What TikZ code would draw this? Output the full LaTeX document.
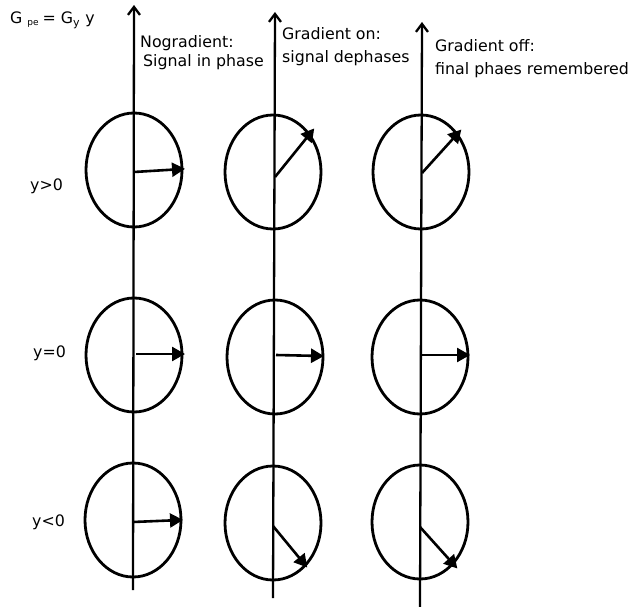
\documentclass[tikz,border=0pt]{standalone}
\usepackage{fontspec}
\setmainfont{DejaVu Sans}
\usetikzlibrary{arrows.meta,shapes.geometric}
\begin{document}
\begin{tikzpicture}[x=1pt,y=-1pt,
  circ/.style={draw,ellipse,line width=2.8pt,minimum width=96pt,minimum height=114pt,inner sep=0pt},
  axis/.style={line width=2.3pt,-{Straight Barb[length=8pt,width=12pt,line width=2.3pt]}},
  vec/.style={line width=2.6pt,-{Triangle[length=13pt,width=14pt]},shorten >=-2pt},
  lbl/.style={anchor=base west,inner sep=0pt,font=\fontsize{15.8}{18}\selectfont}]
\useasboundingbox (0,0) rectangle (629,607);
% axes
\coordinate (a1b) at (133,590); \coordinate (a1t) at (134,5);
\coordinate (a2b) at (273,598); \coordinate (a2t) at (275,12);
\coordinate (a3b) at (420,607); \coordinate (a3t) at (422,22);
% circles
\node[circ] (c11) at (134,170) {};
\node[circ] (c12) at (134,355) {};
\node[circ] (c13) at (133,520) {};
\node[circ] (c21) at (273,172) {};
\node[circ] (c22) at (275,357) {};
\node[circ] (c23) at (273,523) {};
\node[circ] (c31) at (421,172) {};
\node[circ] (c32) at (420,357) {};
\node[circ] (c33) at (420,522) {};
\draw[axis] (a1b) -- (a1t);
\draw[axis] (a2b) -- (a2t);
\draw[axis] (a3b) -- (a3t);
% vectors
\coordinate (s11) at (134,172); \coordinate (e11) at (183,169);
\coordinate (s12) at (136,354); \coordinate (e12) at (183,354);
\coordinate (s13) at (133,522); \coordinate (e13) at (181,520);
\coordinate (s21) at (275,177); \coordinate (e21) at (313,130);
\coordinate (s22) at (276,355); \coordinate (e22) at (322,356);
\coordinate (s23) at (273,526); \coordinate (e23) at (306,566);
\coordinate (s31) at (422,173); \coordinate (e31) at (460,131);
\coordinate (s32) at (421,355); \coordinate (e32) at (468,355);
\coordinate (s33) at (420,527); \coordinate (e33) at (456,567);
\foreach \i in {11,12,13,21,22,23,31,32,33} {\draw[vec] (s\i) -- (e\i);}
% labels
\node[lbl] (g) at (10,24) {G\hspace{5pt}\raisebox{-2pt}{\fontsize{9}{10}\selectfont pe}\hspace{4pt}= G$_{\mathrm{y}}$ y};
\node[lbl] (t1a) at (140,48) {Nogradient:};
\node[lbl] (t1b) at (143,67) {Signal in phase};
\node[lbl] (t2a) at (282,40) {Gradient on:};
\node[lbl] (t2b) at (282,63) {signal dephases};
\node[lbl] (t3a) at (435,52) {Gradient off:};
\node[lbl] (t3b) at (435,75) {final phaes remembered};
\node[lbl] (yp) at (30,190) {y>0};
\node[lbl] (yz) at (33,357) {y=0};
\node[lbl] (yn) at (32,526) {y<0};
\end{tikzpicture}
\end{document}
